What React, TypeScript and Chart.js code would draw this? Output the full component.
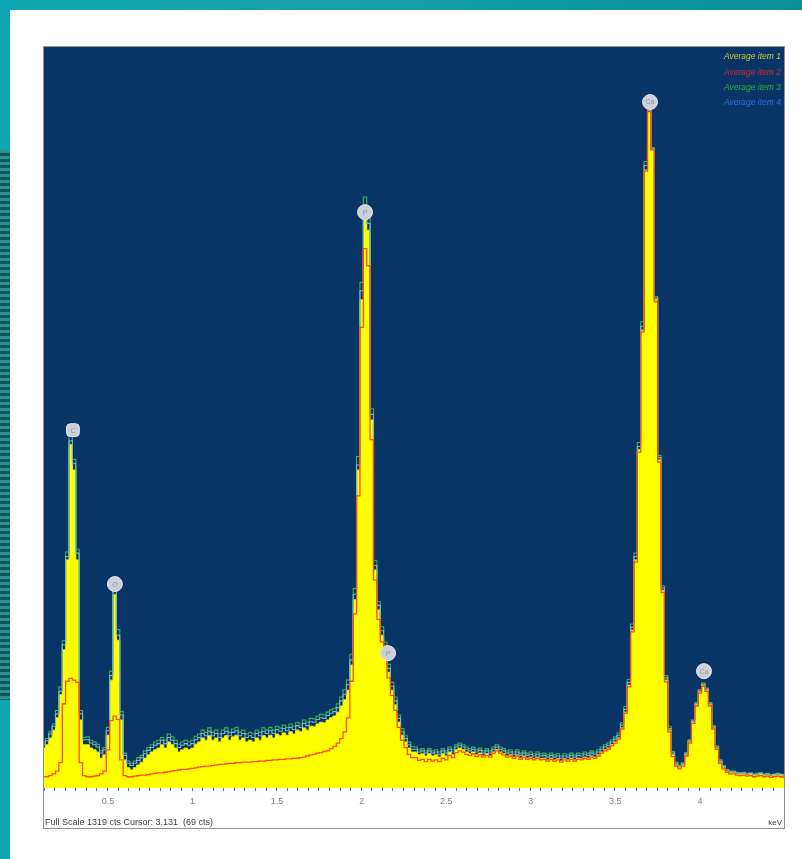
import React, { useEffect, useRef } from 'react';
import { Chart, registerables } from 'chart.js';

Chart.register(...registerables);

// Spectrum channel counts, channels of 0.02 keV starting at 0.12 keV
const item1Counts = [
  71, 77, 89, 103, 125, 166, 246, 406, 611, 566,
  406, 121, 77, 77, 71, 68, 64, 53, 59, 94,
  192, 344, 263, 121, 50, 36, 32, 36, 41, 46,
  53, 59, 64, 68, 71, 77, 71, 82, 77, 71,
  64, 68, 71, 68, 71, 78, 82, 89, 85, 93,
  85, 89, 82, 89, 93, 85, 91, 94, 85, 89,
  82, 85, 82, 89, 85, 93, 89, 94, 89, 96,
  93, 98, 94, 100, 96, 103, 100, 107, 103, 110,
  109, 114, 117, 116, 121, 125, 128, 135, 146, 157,
  174, 219, 335, 566, 869, 1020, 993, 655, 388, 317,
  272, 246, 206, 174, 148, 117, 94, 82, 71, 64,
  64, 59, 61, 57, 61, 57, 59, 55, 61, 57,
  64, 59, 68, 71, 68, 64, 61, 64, 59, 62,
  57, 61, 57, 64, 68, 64, 61, 57, 59, 55,
  59, 53, 57, 53, 55, 52, 55, 52, 53, 50,
  53, 50, 52, 48, 52, 50, 53, 50, 53, 52,
  55, 53, 57, 55, 59, 64, 68, 71, 77, 82,
  89, 107, 135, 183, 281, 406, 602, 815, 1100, 1203,
  1136, 869, 584, 352, 192, 103, 59, 41, 36, 41,
  59, 82, 117, 148, 171, 183, 174, 148, 107, 71,
  46, 36, 30, 27, 27, 25, 24, 25, 23, 24,
  22, 23, 24, 22, 23, 21, 22, 23, 22, 21,
];

const item2Counts = [
  20, 20, 22, 25, 30, 45, 150, 190, 195, 192,
  188, 45, 22, 20, 20, 21, 22, 25, 30, 68,
  120, 128, 122, 50, 22, 20, 20, 21, 22, 23,
  23, 24, 25, 26, 27, 27, 28, 29, 30, 31,
  32, 33, 33, 34, 35, 36, 37, 38, 39, 39,
  40, 41, 42, 42, 43, 44, 44, 45, 45, 46,
  46, 46, 47, 47, 48, 48, 49, 49, 50, 50,
  51, 51, 52, 52, 53, 53, 54, 55, 57, 59,
  60, 62, 63, 65, 66, 70, 74, 80, 88, 100,
  125, 190, 310, 520, 820, 960, 930, 620, 370, 300,
  260, 235, 196, 165, 138, 108, 85, 72, 60, 54,
  54, 49, 51, 47, 51, 48, 50, 47, 53, 50,
  58, 54, 63, 66, 64, 60, 58, 61, 56, 59,
  55, 58, 55, 62, 66, 62, 59, 55, 57, 53,
  57, 51, 55, 51, 53, 50, 53, 50, 51, 48,
  51, 48, 50, 46, 50, 48, 51, 48, 51, 50,
  53, 51, 55, 53, 57, 62, 66, 69, 75, 80,
  87, 105, 133, 180, 278, 402, 598, 812, 1098, 1215,
  1136, 866, 580, 348, 189, 100, 56, 39, 34, 39,
  57, 80, 115, 146, 169, 181, 172, 146, 105, 69,
  44, 34, 28, 25, 25, 23, 22, 23, 21, 22,
  20, 21, 22, 20, 21, 19, 20, 21, 20, 19,
];

const item3Counts = [
  82, 88, 100, 114, 138, 180, 262, 420, 628, 585,
  425, 138, 90, 91, 85, 82, 78, 66, 72, 108,
  208, 362, 282, 136, 62, 48, 44, 48, 54, 58,
  66, 72, 77, 82, 85, 90, 85, 96, 91, 85,
  78, 82, 85, 82, 85, 92, 96, 103, 99, 107,
  99, 103, 96, 103, 107, 99, 105, 108, 99, 103,
  96, 99, 96, 103, 99, 107, 103, 108, 103, 110,
  107, 112, 108, 114, 110, 117, 114, 121, 117, 124,
  123, 128, 131, 130, 135, 139, 142, 150, 162, 175,
  192, 238, 355, 590, 900, 1052, 1015, 675, 405, 332,
  287, 260, 220, 188, 162, 130, 106, 93, 82, 74,
  73, 68, 70, 66, 70, 66, 68, 64, 70, 66,
  73, 68, 77, 80, 77, 73, 70, 73, 68, 71,
  66, 70, 66, 73, 77, 73, 70, 66, 68, 64,
  68, 62, 66, 62, 64, 61, 64, 61, 62, 59,
  62, 59, 61, 57, 61, 59, 62, 59, 62, 61,
  64, 62, 66, 64, 68, 73, 77, 80, 86, 91,
  98, 116, 145, 193, 292, 418, 615, 830, 1115, 1210,
  1140, 875, 592, 360, 200, 110, 65, 46, 40, 45,
  63, 86, 121, 152, 175, 187, 178, 152, 111, 75,
  50, 40, 33, 30, 30, 28, 27, 28, 26, 27,
  25, 26, 27, 25, 26, 24, 25, 26, 25, 24,
];

const item4Counts = [
  78, 84, 96, 110, 132, 172, 255, 412, 618, 578,
  418, 132, 86, 86, 80, 77, 73, 62, 68, 102,
  200, 352, 272, 130, 58, 44, 40, 44, 49, 54,
  61, 67, 72, 76, 79, 85, 79, 90, 85, 79,
  72, 76, 79, 76, 79, 86, 90, 97, 93, 101,
  93, 97, 90, 97, 101, 93, 99, 102, 93, 97,
  90, 93, 90, 97, 93, 101, 97, 102, 97, 104,
  101, 106, 102, 108, 104, 111, 108, 115, 111, 118,
  117, 122, 125, 124, 129, 133, 136, 143, 155, 167,
  184, 228, 345, 575, 885, 1035, 1005, 665, 396, 325,
  280, 253, 213, 181, 155, 124, 100, 88, 77, 69,
  69, 64, 66, 62, 66, 62, 64, 60, 66, 62,
  69, 64, 73, 76, 73, 69, 66, 69, 64, 67,
  62, 66, 62, 69, 73, 69, 66, 62, 64, 60,
  64, 58, 62, 58, 60, 57, 60, 57, 58, 55,
  58, 55, 57, 53, 57, 55, 58, 55, 58, 57,
  60, 58, 62, 60, 64, 69, 73, 76, 82, 87,
  94, 112, 140, 188, 286, 412, 608, 822, 1108, 1206,
  1138, 872, 588, 356, 196, 106, 62, 44, 38, 43,
  61, 84, 119, 150, 173, 185, 176, 150, 109, 73,
  48, 38, 32, 29, 29, 27, 26, 27, 25, 26,
  24, 25, 26, 24, 25, 23, 24, 25, 24, 23,
];

const seriesNames = ['Average item 1', 'Average item 2', 'Average item 3', 'Average item 4'];

// Peak identification markers
const peakEnergies = [0.293, 0.541, 2.02, 2.156, 3.705, 4.024];
const peakCounts = [637, 363, 1025, 240, 1221, 208];
const peakLabels = ['C', 'O', 'P', 'P', 'Ca', 'Ca'];

// Axis tick labels (keV)
const tickLabelValues = [0.5, 1, 1.5, 2, 2.5, 3, 3.5, 4];

const FULL_SCALE = 1319;
const X_MIN = 0.122;
const X_MAX = 4.497;
const footerText = 'Full Scale 1319 cts Cursor: 3.131  (69 cts)';
const unitText = 'keV';

const channelEnergies = item1Counts.map((_, i) => Math.round((0.12 + i * 0.02) * 100) / 100);
const toPoints = (arr: number[]) => arr.map((y, i) => ({ x: channelEnergies[i], y }));

const FONT = '"Liberation Sans", Arial, sans-serif';

const decorPlugin = {
  id: 'decor',
  beforeDraw(chart: any) {
    const { ctx, chartArea } = chart;
    ctx.save();
    ctx.fillStyle = '#ffffff';
    ctx.fillRect(chartArea.left, chartArea.top, chartArea.right - chartArea.left, 828 - chartArea.top);
    ctx.fillStyle = '#093566';
    ctx.fillRect(chartArea.left, chartArea.top, chartArea.right - chartArea.left, chartArea.bottom - chartArea.top);
    ctx.restore();
  },
  afterDraw(chart: any) {
    const { ctx, chartArea, scales } = chart;
    ctx.save();
    // frame
    ctx.strokeStyle = '#8d9297';
    ctx.lineWidth = 1;
    ctx.strokeRect(chartArea.left - 0.5, chartArea.top - 0.5, chartArea.right - chartArea.left + 1, 828 - chartArea.top + 1);
    // x tick labels
    ctx.font = `9px ${FONT}`;
    ctx.fillStyle = '#7e7e7e';
    ctx.textAlign = 'center';
    ctx.textBaseline = 'middle';
    tickLabelValues.forEach((v) => {
      ctx.fillText(String(v), scales.x.getPixelForValue(v), chartArea.bottom + 14);
    });
    // peak labels
    ctx.font = `7px ${FONT}`;
    ctx.fillStyle = '#8f95a3';
    ctx.textAlign = 'center';
    ctx.textBaseline = 'middle';
    peakLabels.forEach((lab, i) => {
      const x = scales.x.getPixelForValue(peakEnergies[i]);
      const y = scales.y.getPixelForValue(peakCounts[i]);
      ctx.fillText(lab, x, y + 0.5);
    });
    // legend
    const colors = ['#c9c93c', '#d8262a', '#26b22e', '#2a6fe0'];
    ctx.font = `italic 8.5px ${FONT}`;
    ctx.textAlign = 'right';
    ctx.textBaseline = 'middle';
    seriesNames.forEach((n, i) => {
      ctx.fillStyle = colors[i];
      ctx.fillText(n, chartArea.right - 3, chartArea.top + 10 + i * 15.3);
    });
    // footer
    ctx.fillStyle = '#3c3c3c';
    ctx.font = `9px ${FONT}`;
    ctx.textAlign = 'left';
    ctx.textBaseline = 'alphabetic';
    ctx.fillText(footerText, chartArea.left + 1, 825);
    ctx.font = `8px ${FONT}`;
    ctx.textAlign = 'right';
    ctx.fillText(unitText, chartArea.right - 2, 825);
    ctx.restore();
  },
};

export default function App() {
  const ref = useRef<HTMLCanvasElement>(null);

  useEffect(() => {
    if (!ref.current) return;
    const chart = new Chart(ref.current, {
      type: 'line',
      data: {
        datasets: [
          {
            type: 'scatter',
            label: 'peaks',
            data: peakEnergies.map((e, i) => ({ x: e, y: peakCounts[i] })),
            pointStyle: peakLabels.map((_, i) => (i === 0 ? 'rectRounded' : 'circle')),
            pointRadius: 7.5,
            pointBackgroundColor: '#cdd0d8',
            pointBorderColor: '#e2e5ec',
            pointBorderWidth: 1,
            showLine: false,
            order: 0,
          } as any,
          {
            label: seriesNames[1],
            data: toPoints(item2Counts),
            borderColor: '#ff4a10',
            borderWidth: 1.3,
            fill: false,
            stepped: 'middle',
            pointRadius: 0,
            order: 1,
          },
          {
            label: seriesNames[2],
            data: toPoints(item3Counts),
            borderColor: '#3db04a',
            borderWidth: 1.1,
            fill: false,
            stepped: 'middle',
            pointRadius: 0,
            order: 3,
          },
          {
            label: seriesNames[3],
            data: toPoints(item4Counts),
            borderColor: '#7fb2c8',
            borderWidth: 1.1,
            fill: false,
            stepped: 'middle',
            pointRadius: 0,
            order: 2,
          },
          {
            label: seriesNames[0],
            data: toPoints(item1Counts),
            borderColor: '#f4f400',
            backgroundColor: '#ffff00',
            borderWidth: 1,
            fill: 'origin',
            stepped: 'middle',
            pointRadius: 0,
            order: 4,
          },
        ],
      },
      options: {
        animation: false,
        responsive: false,
        devicePixelRatio: 1,
        layout: { padding: { left: 44, top: 47, right: 18, bottom: 31 } },
        scales: {
          x: {
            type: 'linear',
            min: X_MIN,
            max: X_MAX,
            afterFit: (scale: any) => {
              scale.height = 40;
            },
            border: { display: false },
            grid: {
              drawOnChartArea: false,
              drawTicks: true,
              tickLength: 3,
              tickColor: '#6a6f73',
            },
            ticks: {
              stepSize: 0.0625,
              autoSkip: false,
              maxRotation: 0,
              includeBounds: false,
              padding: 6,
              color: '#8a8a8a',
              font: { family: FONT, size: 9 },
              callback: () => '',
            },
          },
          y: {
            display: false,
            min: 0,
            max: FULL_SCALE,
          },
        },
        plugins: {
          legend: { display: false },
          tooltip: { enabled: false },
        },
      },
      plugins: [decorPlugin],
    });
    return () => chart.destroy();
  }, []);

  return (
    <div style={{ position: 'fixed', left: 0, top: 0, width: 802, height: 859, overflow: 'hidden', background: '#0fa4b0' }}>
      <div
        style={{
          position: 'absolute',
          left: 0,
          top: 0,
          width: 802,
          height: 10,
          background: 'linear-gradient(90deg, #0fa6b3 0%, #16a0ad 40%, #0c9aa8 70%, #0b8e9c 100%)',
        }}
      />
      <div
        style={{
          position: 'absolute',
          left: 0,
          top: 150,
          width: 10,
          height: 550,
          background:
            'repeating-linear-gradient(180deg, #2b8f98 0px, #2b8f98 3px, #0d4a4c 3px, #0d4a4c 6px), #1a6c70',
          opacity: 0.9,
        }}
      />
      <div style={{ position: 'absolute', left: 10, top: 10, width: 792, height: 849, background: '#ffffff' }} />
      <canvas ref={ref} width={802} height={859} style={{ position: 'absolute', left: 0, top: 0, width: 802, height: 859 }} />
    </div>
  );
}
